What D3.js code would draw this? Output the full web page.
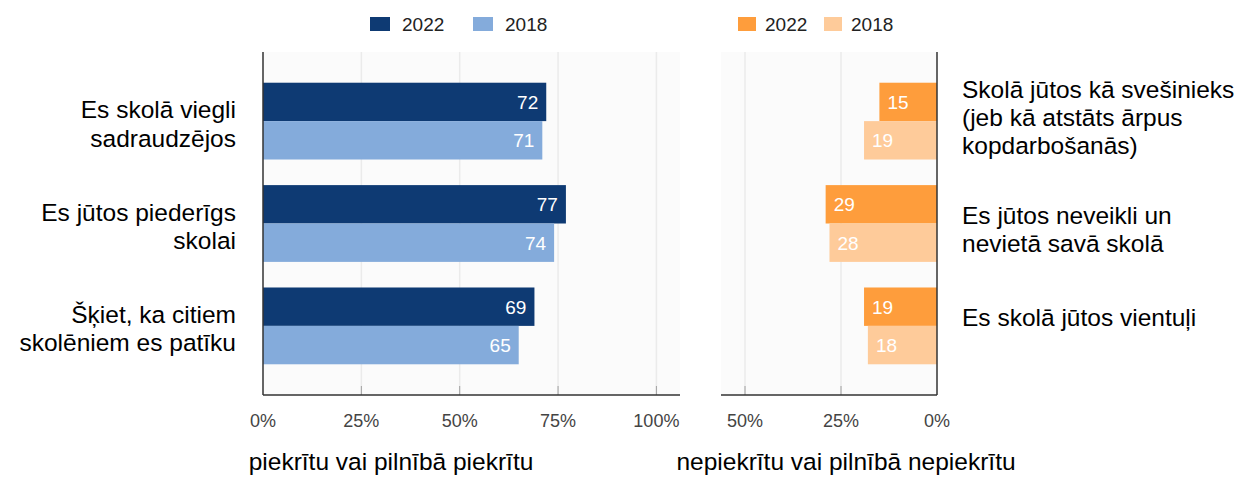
<!DOCTYPE html>
<html><head><meta charset="utf-8">
<script src="https://cdn.jsdelivr.net/npm/d3@7"></script>
<style>body{margin:0;background:#fff;}svg{display:block;font-family:"Liberation Sans",Arial,sans-serif;}</style>
</head><body><svg id="c" width="1242" height="477"></svg>
<script>
const agreeCategories = [["Es skolā viegli","sadraudzējos"],["Es jūtos piederīgs","skolai"],["Šķiet, ka citiem","skolēniem es patīku"]];
const disagreeCategories = [["Skolā jūtos kā svešinieks","(jeb kā atstāts ārpus","kopdarbošanās)"],["Es jūtos neveikli un","nevietā savā skolā"],["Es skolā jūtos vientuļi"]];
const years = ["2022","2018"];
const agree2022 = [72,77,69];
const agree2018 = [71,74,65];
const disagree2022 = [15,29,19];
const disagree2018 = [19,28,18];
const agreeTicks = [0,25,50,75,100];
const disagreeTicks = [0,25,50];
const agreeTitle = "piekrītu vai pilnībā piekrītu";
const disagreeTitle = "nepiekrītu vai pilnībā nepiekrītu";

const agreeColors = {"2022":"#0e3a73","2018":"#84abdb"};
const disagreeColors = {"2022":"#fe9d3c","2018":"#fecb9a"};

const svg = d3.select("#c");
const plotTop = 52, plotBottom = 395;

const y = d3.scaleBand().domain(d3.range(3)).range([plotTop,plotBottom]).paddingInner(0.25).paddingOuter(0.3);
const ySub = d3.scaleBand().domain(years).range([0,y.bandwidth()]);

function panel(opts){
  const {x, vals, colors, cats, ticks, axisX, bgX0, bgX1, side, title, titleX, legendX} = opts;
  const g = svg.append("g");
  g.append("rect").attr("x",bgX0).attr("y",plotTop).attr("width",bgX1-bgX0).attr("height",plotBottom-plotTop).attr("fill","#fbfbfb");
  g.selectAll(".grid").data(ticks.filter(t=>t>0)).join("line")
    .attr("x1",d=>x(d)).attr("x2",d=>x(d)).attr("y1",plotTop).attr("y2",plotBottom)
    .attr("stroke","#ebebeb").attr("stroke-width",1.5);
  g.selectAll(".tk").data(ticks.filter(t=>t>0)).join("line")
    .attr("x1",d=>x(d)).attr("x2",d=>x(d)).attr("y1",plotBottom-9).attr("y2",plotBottom)
    .attr("stroke","#a0a0a0").attr("stroke-width",1);
  years.forEach((yr,k)=>{
    const data = vals[k];
    g.selectAll(".b"+yr).data(data).join("rect")
      .attr("x",d=>Math.min(x(0),x(d))).attr("width",d=>Math.abs(x(d)-x(0)))
      .attr("y",(d,i)=>y(i)+ySub(yr)).attr("height",ySub.bandwidth())
      .attr("fill",colors[yr]);
    g.selectAll(".l"+yr).data(data).join("text")
      .attr("x",d=> side==="left" ? x(d)-8 : x(d)+8)
      .attr("y",(d,i)=>y(i)+ySub(yr)+ySub.bandwidth()/2+7)
      .attr("text-anchor", side==="left" ? "end":"start")
      .attr("fill","#fff").attr("font-size",19).text(d=>d);
  });
  g.append("line").attr("x1",axisX).attr("x2",axisX).attr("y1",plotTop).attr("y2",plotBottom).attr("stroke","#333").attr("stroke-width",1.5);
  g.append("line").attr("x1",bgX0).attr("x2",bgX1).attr("y1",plotBottom).attr("y2",plotBottom).attr("stroke","#333").attr("stroke-width",1.5);
  g.selectAll(".tl").data(ticks).join("text")
    .attr("x",d=>x(d)).attr("y",427).attr("text-anchor","middle")
    .attr("fill","#444").attr("font-size",18).text(d=>d+"%");
  cats.forEach((lines,i)=>{
    const c = y(i)+y.bandwidth()/2;
    const n = lines.length;
    let first;
    if(side==="left") first = c-3;
    else first = n>=3 ? c-23.5 : c+0.5;
    const t = g.append("text").attr("font-size",24.5).attr("fill","#000")
      .attr("text-anchor", side==="left" ? "end":"start");
    lines.forEach((ln,j)=>{
      t.append("tspan").attr("x", side==="left" ? 236 : 962).attr("y", first + j*28.4).text(ln);
    });
  });
  g.append("text").attr("x",titleX).attr("y",470).attr("text-anchor","middle").attr("font-size",24.5).attr("fill","#000").text(title);
  years.forEach((yr,k)=>{
    const lx = legendX[k];
    g.append("rect").attr("x",lx).attr("y",17).attr("width",side==="left"?20:18).attr("height",14).attr("fill",colors[yr]);
    g.append("text").attr("x",lx+(side==="left"?32:27)).attr("y",31).attr("font-size",19).attr("fill","#222").text(yr);
  });
}

const xL = d3.scaleLinear().domain([0,106]).range([263,680]);
panel({x:xL, vals:[agree2022,agree2018], colors:agreeColors, cats:agreeCategories, ticks:agreeTicks,
  axisX:xL(0), bgX0:xL(0), bgX1:xL(106), side:"left", title:agreeTitle, titleX:391, legendX:[370,473]});

const xR = d3.scaleLinear().domain([0,56.25]).range([937,721]);
panel({x:xR, vals:[disagree2022,disagree2018], colors:disagreeColors, cats:disagreeCategories, ticks:disagreeTicks,
  axisX:xR(0), bgX0:xR(56.25), bgX1:xR(0), side:"right", title:disagreeTitle, titleX:846, legendX:[738,824]});
</script>
</body></html>
